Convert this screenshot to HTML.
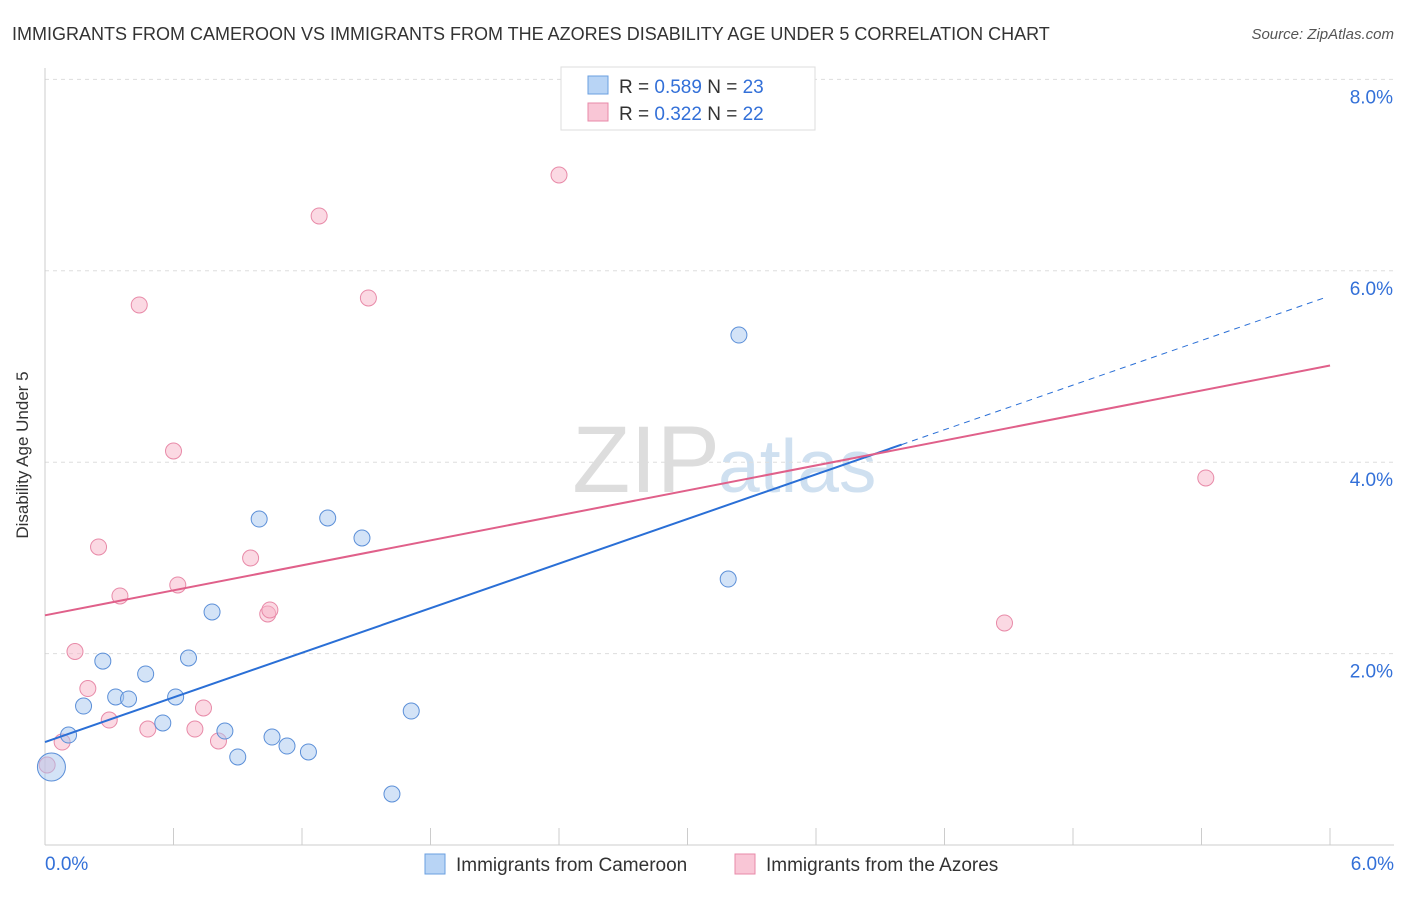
<!DOCTYPE html>
<html><head><meta charset="utf-8"><style>
body{margin:0;background:#fff;font-family:"Liberation Sans",sans-serif;}
svg text{font-family:"Liberation Sans",sans-serif;}
</style></head><body>
<svg id="c" width="1406" height="892" xmlns="http://www.w3.org/2000/svg">
<text x="12" y="40" font-size="18" fill="#333">IMMIGRANTS FROM CAMEROON VS IMMIGRANTS FROM THE AZORES DISABILITY AGE UNDER 5 CORRELATION CHART</text>
<text x="1394" y="39" font-size="15" fill="#555" font-style="italic" text-anchor="end">Source: ZipAtlas.com</text>
<text x="28" y="455" font-size="17" fill="#333" text-anchor="middle" transform="rotate(-90 28 455)">Disability Age Under 5</text>
<text x="720" y="492" font-size="95" fill="#ddd" text-anchor="end" font-family="Liberation Serif">ZIP</text>
<text x="718" y="492" font-size="75" fill="#cfe0f0">atlas</text>
<g id="grid"></g><g id="axes"></g><g id="pts"></g><g id="lines"></g>
<g>
<rect x="561" y="67" width="254" height="63" fill="#fff" stroke="#ddd"/>
<rect x="588" y="76" width="20" height="18" fill="#b8d4f5" stroke="#6a9fe0"/>
<rect x="588" y="103" width="20" height="18" fill="#f9c6d6" stroke="#e88aa8"/>
<text x="619" y="93" font-size="19" fill="#333">R = <tspan fill="#3370d8">0.589</tspan>    N = <tspan fill="#3370d8">23</tspan></text>
<text x="619" y="120" font-size="19" fill="#333">R = <tspan fill="#3370d8">0.322</tspan>    N = <tspan fill="#3370d8">22</tspan></text>
</g>
<g>
<rect x="425" y="854" width="20" height="20" fill="#b8d4f5" stroke="#6a9fe0"/>
<text x="456" y="871" font-size="19" fill="#333">Immigrants from Cameroon</text>
<rect x="735" y="854" width="20" height="20" fill="#f9c6d6" stroke="#e88aa8"/>
<text x="766" y="871" font-size="19" fill="#333">Immigrants from the Azores</text>
</g>
</svg>
<script>
const yTicks=[2,4,6,8];
const xTickLabels=["0.0%","6.0%"];
const blueX=[0.03,0.11,0.18,0.27,0.33,0.39,0.47,0.55,0.61,0.67,0.78,0.84,0.90,1.00,1.06,1.13,1.23,1.32,1.48,1.62,1.71,3.19,3.24];
const blueY=[0.815,1.149,1.452,1.922,1.547,1.526,1.787,1.275,1.547,1.954,2.435,1.191,0.920,3.406,1.128,1.034,0.972,3.417,3.208,0.533,1.400,2.779,5.329];
const pinkX=[0.01,0.08,0.14,0.20,0.25,0.30,0.35,0.44,0.48,0.60,0.62,0.70,0.74,0.81,0.96,1.04,1.05,1.28,1.51,2.40,4.48,5.42];
const pinkY=[0.836,1.076,2.022,1.635,3.114,1.306,2.602,5.643,1.212,4.117,2.717,1.212,1.432,1.087,2.999,2.414,2.456,6.573,5.716,7.001,2.320,3.835];
const blueFit=[1.076,0.777];
const pinkFit=[2.40,0.435];
const NS="http://www.w3.org/2000/svg";
const X=v=>45+v*214.17, Y=v=>845-v*95.7;
function mk(p,t,a){const e=document.createElementNS(NS,t);for(const k in a)e.setAttribute(k,a[k]);document.getElementById(p).appendChild(e);return e;}
yTicks.forEach(t=>{
 const l=mk('grid','line',{x1:45,x2:1394,y1:Y(t),y2:Y(t),stroke:'#ddd','stroke-dasharray':'4,4'});
 
 
 const tx=mk('grid','text',{x:1393,y:Y(t)+24,'font-size':19,fill:'#3370d8','text-anchor':'end'});tx.textContent=t.toFixed(1)+'%';
 
 
});
const ax=mk('axes','line',{x1:45,x2:1394,y1:845,y2:845,stroke:'#ccc'});


const ay=mk('axes','line',{x1:45,x2:45,y1:68,y2:845,stroke:'#ccc'});


for(let i=0;i<=10;i++){const x=45+i*128.5;const t=mk('axes','line',{x1:x,x2:x,y1:828,y2:845,stroke:'#ccc'});
 
 }
[[0,'start',45],[6,'end',1394]].forEach((d,i)=>{const t=mk('axes','text',{x:d[2],y:870,'font-size':19,fill:'#3370d8','text-anchor':d[1]});t.textContent=xTickLabels[i];
 
 });
pinkX.forEach((x,i)=>{const c=mk('pts','circle',{cx:X(x),cy:Y(pinkY[i]),r:8,fill:'rgba(248,180,200,0.5)',stroke:'#e88aa8','stroke-width':1});
 
 });
blueX.forEach((x,i)=>{const c=mk('pts','circle',{cx:X(x),cy:Y(blueY[i]),r:i==0?14:8,fill:'rgba(168,200,240,0.5)',stroke:'#5b8fd8','stroke-width':1});
 
 });
const bl=mk('lines','line',{x1:X(0),y1:Y(blueFit[0]),x2:X(4.0),y2:Y(blueFit[0]+blueFit[1]*4.0),stroke:'#2a6fd6','stroke-width':2});


const bd=mk('lines','line',{x1:X(4.0),y1:Y(blueFit[0]+blueFit[1]*4.0),x2:X(5.98),y2:Y(blueFit[0]+blueFit[1]*5.98),stroke:'#2a6fd6','stroke-width':1,'stroke-dasharray':'6,5'});


const pl=mk('lines','line',{x1:X(0),y1:Y(pinkFit[0]),x2:X(6),y2:Y(pinkFit[0]+pinkFit[1]*6),stroke:'#e0608a','stroke-width':2});


</script>
</body></html>
